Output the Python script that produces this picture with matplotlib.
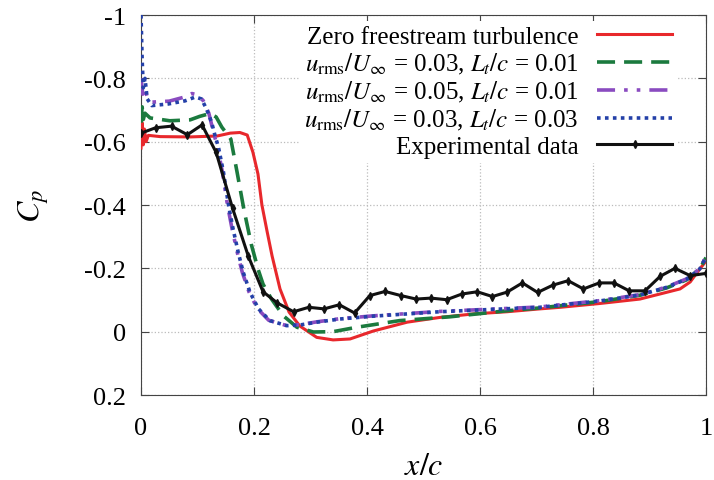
import matplotlib
matplotlib.use('Agg')
import matplotlib.pyplot as plt

plt.rcParams['font.family'] = ['Liberation Serif', 'DejaVu Serif']
plt.rcParams['mathtext.fontset'] = 'stix'

# Zero freestream turbulence
x_zero = [0.0, 0.002, 0.004, 0.006, 0.009, 0.013, 0.034, 0.087, 0.135, 0.158, 0.175, 0.188,
          0.198, 0.207, 0.214, 0.223, 0.232, 0.246, 0.262, 0.281, 0.311, 0.340, 0.370,
          0.411, 0.471, 0.529, 0.588, 0.648, 0.706, 0.742, 0.812, 0.883, 0.954, 0.972,
          0.989, 1.0]
cp_zero = [-0.58, -0.66, -0.59, -0.64, -0.60, -0.62, -0.616, -0.615, -0.618, -0.627, -0.629, -0.621,
           -0.567, -0.498, -0.400, -0.318, -0.239, -0.135, -0.062, -0.018, 0.018, 0.026, 0.023,
           -0.002, -0.030, -0.045, -0.056, -0.063, -0.072, -0.077, -0.089, -0.103, -0.135, -0.157,
           -0.198, -0.223]

# u_rms/U = 0.03, Lt/c = 0.01
x_a = [0.0, 0.002, 0.004, 0.007, 0.016, 0.051, 0.087, 0.104, 0.122, 0.133, 0.143, 0.159,
       0.170, 0.182, 0.195, 0.207, 0.216, 0.231, 0.252, 0.276, 0.305, 0.340, 0.382,
       0.458, 0.547, 0.647, 0.706, 0.742, 0.812, 0.883, 0.930, 0.966, 0.989, 1.0]
cp_a = [-0.66, -0.71, -0.67, -0.69, -0.675, -0.666, -0.669, -0.680, -0.689, -0.678, -0.646, -0.608,
        -0.504, -0.387, -0.277, -0.198, -0.150, -0.103, -0.050, -0.014, 0.001, 0.000, -0.014,
        -0.035, -0.047, -0.066, -0.075, -0.082, -0.095, -0.115, -0.138, -0.164, -0.198, -0.234]

# u_rms/U = 0.05, Lt/c = 0.01
x_b = [0.0, 0.003, 0.006, 0.012, 0.020, 0.050, 0.075, 0.090, 0.100, 0.110, 0.120, 0.129,
       0.135, 0.144, 0.153, 0.161, 0.170, 0.179, 0.191, 0.206, 0.226, 0.256, 0.281,
       0.311, 0.352, 0.411, 0.529, 0.706, 0.742, 0.812, 0.883, 0.930, 0.966, 0.989, 1.0]
cp_b = [-0.80, -0.75, -0.77, -0.735, -0.725, -0.728, -0.740, -0.752, -0.748, -0.730, -0.690, -0.625,
        -0.585, -0.505, -0.400, -0.326, -0.253, -0.189, -0.126, -0.073, -0.036, -0.020, -0.022,
        -0.031, -0.041, -0.050, -0.064, -0.078, -0.085, -0.098, -0.117, -0.141, -0.167, -0.199, -0.237]

# u_rms/U = 0.03, Lt/c = 0.03
x_c = [0.0, 0.002, 0.004, 0.007, 0.011, 0.019, 0.048, 0.078, 0.096, 0.107, 0.116, 0.125,
       0.131, 0.137, 0.146, 0.155, 0.163, 0.172, 0.181, 0.193, 0.208, 0.228, 0.258,
       0.281, 0.311, 0.352, 0.411, 0.529, 0.706, 0.742, 0.812, 0.883, 0.930, 0.966, 0.989, 1.0]
cp_c = [-1.0, -0.86, -0.77, -0.80, -0.735, -0.714, -0.719, -0.729, -0.741, -0.735, -0.703, -0.661,
        -0.619, -0.583, -0.503, -0.398, -0.324, -0.251, -0.187, -0.124, -0.072, -0.035, -0.019,
        -0.021, -0.030, -0.040, -0.049, -0.063, -0.077, -0.084, -0.097, -0.116, -0.140, -0.166, -0.198, -0.236]

# experimental data
x_exp = [0.0, 0.026, 0.054, 0.082, 0.108, 0.133, 0.162, 0.190, 0.216, 0.241, 0.270, 0.297,
         0.324, 0.351, 0.378, 0.405, 0.432, 0.460, 0.487, 0.513, 0.541, 0.568, 0.595,
         0.622, 0.648, 0.675, 0.702, 0.729, 0.756, 0.783, 0.811, 0.837, 0.864, 0.892,
         0.919, 0.945, 0.972, 1.0]
cp_exp = [-0.627, -0.644, -0.649, -0.622, -0.653, -0.566, -0.390, -0.238, -0.126, -0.091, -0.063, -0.077,
          -0.072, -0.085, -0.059, -0.114, -0.127, -0.114, -0.103, -0.106, -0.101, -0.119, -0.126,
          -0.111, -0.125, -0.154, -0.124, -0.147, -0.161, -0.135, -0.154, -0.154, -0.129, -0.129,
          -0.175, -0.200, -0.177, -0.184]

labels = ['Zero freestream turbulence',
          r'$u_{\mathrm{rms}}/U_\infty$ = 0.03, $L_t/c$ = 0.01',
          r'$u_{\mathrm{rms}}/U_\infty$ = 0.05, $L_t/c$ = 0.01',
          r'$u_{\mathrm{rms}}/U_\infty$ = 0.03, $L_t/c$ = 0.03',
          'Experimental data']

fig = plt.figure(figsize=(7.14, 4.81), dpi=100)
ax = fig.add_axes([0.1975, 0.1767, 0.7913, 0.79])

ax.plot(x_zero, cp_zero, color='#e8282c', lw=2.2, label=labels[0], zorder=3)
ax.plot(x_a, cp_a, color='#1b7a3e', lw=2.6, dashes=(5, 2.5), label=labels[1], zorder=4)
ax.plot(x_b, cp_b, color='#8a4bc0', lw=2.6, dashes=(5, 2.5, 1, 2.5, 1, 2.5), label=labels[2], zorder=5)
ax.plot(x_c, cp_c, color='#2440a8', lw=2.6, dashes=(1, 1.2), label=labels[3], zorder=6)
ax.plot(x_exp, cp_exp, color='#111111', lw=2.2, marker='d', ms=4, label=labels[4], zorder=7)

ax.set_xlim(0, 1)
ax.set_ylim(0.2, -1)
ax.set_xticks([0, 0.2, 0.4, 0.6, 0.8, 1])
ax.set_xticklabels(['0', '0.2', '0.4', '0.6', '0.8', '1'])
ax.set_yticks([0.2, 0, -0.2, -0.4, -0.6, -0.8, -1])
ax.set_yticklabels(['0.2', '0', '-0.2', '-0.4', '-0.6', '-0.8', '-1'])
ax.tick_params(direction='in', top=True, right=True, length=6, width=0.8,
               labelsize=19, color='#444444')
ax.tick_params(axis='y', pad=11)
ax.tick_params(axis='x', pad=16)
for s in ax.spines.values():
    s.set_color('#444444')
ax.grid(True, ls=':', color='#bbbbbb', lw=0.9)
ax.set_axisbelow(True)

ax.set_xlabel(r'$x/c$', fontsize=23, labelpad=9)
ax.set_ylabel(r'$C_p$', fontsize=23, labelpad=24)

leg = ax.legend(loc='upper right', bbox_to_anchor=(0.9487, 0.985), borderaxespad=0,
                markerfirst=False, fontsize=18, handlelength=3.0, handletextpad=0.75,
                labelspacing=0.12, borderpad=0.2, frameon=True, fancybox=False, framealpha=1)
leg.get_frame().set_edgecolor('none')
leg.get_frame().set_facecolor('white')
for t in leg.get_texts():
    t.set_ha('right')

fig.savefig('out.png', dpi=100)
